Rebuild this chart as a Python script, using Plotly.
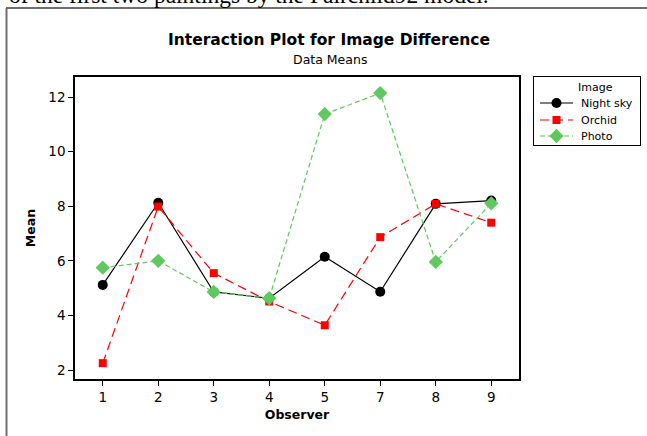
import plotly.graph_objects as go

observers = ["1", "2", "3", "4", "5", "7", "8", "9"]
night_sky = [5.12, 8.13, 4.86, 4.63, 6.15, 4.87, 8.09, 8.21]
orchid = [2.25, 7.99, 5.55, 4.51, 3.64, 6.87, 8.09, 7.40]
photo = [5.75, 6.00, 4.86, 4.63, 11.38, 12.15, 5.96, 8.11]
y_ticks = [2, 4, 6, 8, 10, 12]
series_names = ["Night sky", "Orchid", "Photo"]

FONT = "DejaVu Sans, sans-serif"

styles = [
    dict(line=dict(color="black", width=1.2), symbol="circle", size=10, color="black"),
    dict(line=dict(color="#ff0000", width=1.2, dash="9px,5px"), symbol="square", size=8, color="#ff0000"),
    dict(line=dict(color="#5fc95f", width=1.2, dash="5px,3px"), symbol="diamond", size=11, color="#5fc95f"),
]

W, H = 647, 436
L, R, T, B = 75, 519, 77, 379
def px(x):
    return x / W
def py(y):
    return 1 - y / H

fig = go.Figure()
for name, vals, st in zip(series_names, [night_sky, orchid, photo], styles):
    fig.add_trace(go.Scatter(x=observers, y=vals, name=name, mode="lines+markers",
                             line=st["line"],
                             marker=dict(symbol=st["symbol"], size=st["size"], color=st["color"]),
                             showlegend=False))

# custom legend box (pixel-like coordinates on an auxiliary axis pair)
LG_L, LG_R, LG_T, LG_B = 534, 640, 77, 145
legend_rows = [103, 120, 136]
for name, row, st in zip(series_names, legend_rows, styles):
    fig.add_trace(go.Scatter(x=[540, 556.5, 573], y=[row, row, row], mode="lines",
                             line=st["line"],
                             xaxis="x2", yaxis="y2", showlegend=False, hoverinfo="skip"))
    fig.add_trace(go.Scatter(x=[556.5], y=[row], mode="markers",
                             marker=dict(symbol=st["symbol"], size=st["size"], color=st["color"]),
                             xaxis="x2", yaxis="y2", showlegend=False, hoverinfo="skip"))
    fig.add_annotation(text=name, xref="x2", yref="y2", x=579, y=row,
                       xanchor="left", yanchor="middle", showarrow=False,
                       font=dict(size=11, family=FONT))
fig.add_annotation(text="Image", xref="x2", yref="y2", x=595, y=87,
                   xanchor="center", yanchor="middle", showarrow=False,
                   font=dict(size=11, family=FONT))

fig.update_layout(
    width=W, height=H,
    margin=dict(l=0, r=0, t=0, b=0),
    paper_bgcolor="white", plot_bgcolor="white",
    font=dict(family=FONT, size=12, color="black"),
    showlegend=False,
    xaxis=dict(
        domain=[px(L), px(R)],
        type="category", range=[-0.5, 7.5],
        showline=True, linecolor="black", linewidth=1.5, mirror=True,
        ticks="outside", ticklen=5, tickcolor="black",
        showgrid=False, zeroline=False,
        tickfont=dict(size=13.5),
        title=dict(text="<b>Observer</b>", font=dict(size=12.5), standoff=6),
    ),
    yaxis=dict(
        domain=[py(B), py(T)],
        range=[1.67, 12.74], tickvals=y_ticks,
        showline=True, linecolor="black", linewidth=1.5, mirror=True,
        ticks="outside", ticklen=5, tickcolor="black",
        showgrid=False, zeroline=False,
        tickfont=dict(size=13.5),
        title=dict(text="<b>Mean</b>", font=dict(size=12.5), standoff=10),
    ),
    xaxis2=dict(domain=[px(LG_L), px(LG_R)], range=[LG_L, LG_R], anchor="y2",
                showline=True, mirror=True, linecolor="black", linewidth=1,
                showgrid=False, zeroline=False, showticklabels=False, ticks=""),
    yaxis2=dict(domain=[py(LG_B), py(LG_T)], range=[LG_B, LG_T], anchor="x2",
                showline=True, mirror=True, linecolor="black", linewidth=1,
                showgrid=False, zeroline=False, showticklabels=False, ticks=""),
)

fig.add_annotation(text="<b>Interaction Plot for Image Difference</b>",
                   xref="paper", yref="paper", x=px(329), y=py(40),
                   xanchor="center", yanchor="middle", showarrow=False,
                   font=dict(size=15.5, family=FONT))
fig.add_annotation(text="Data Means",
                   xref="paper", yref="paper", x=px(330), y=py(59),
                   xanchor="center", yanchor="middle", showarrow=False,
                   font=dict(size=12.5, family=FONT))
fig.add_annotation(text="of the first two paintings by the Fairchild92 model.",
                   xref="paper", yref="paper", x=px(7), y=py(10),
                   xanchor="left", yanchor="bottom", showarrow=False,
                   font=dict(size=23.5, family="Liberation Serif, serif"))

fig.add_shape(type="line", xref="paper", yref="paper",
              x0=px(6), x1=px(650), y0=py(8), y1=py(8),
              line=dict(color="#6e6e6e", width=2))
fig.add_shape(type="line", xref="paper", yref="paper",
              x0=px(6.5), x1=px(6.5), y0=py(8), y1=py(440),
              line=dict(color="#6e6e6e", width=2))

fig.write_html("out.html")
